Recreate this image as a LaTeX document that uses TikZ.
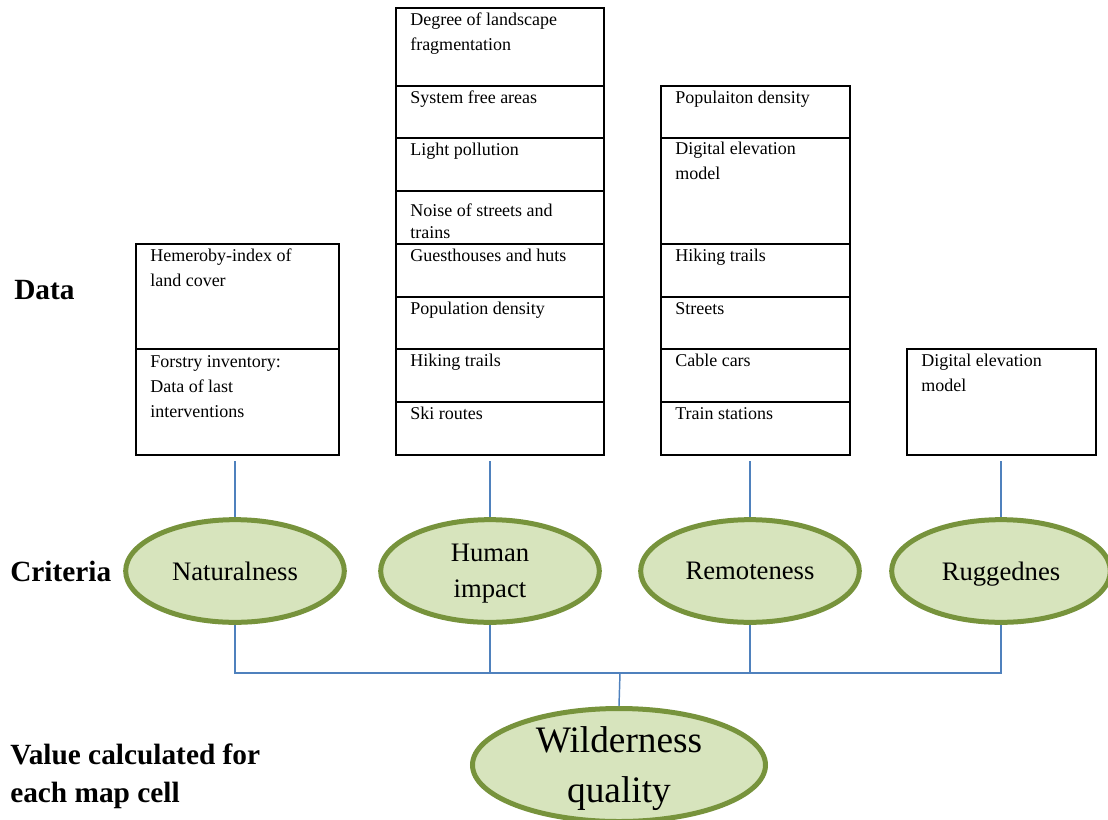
\documentclass[tikz,border=0pt]{standalone}
\usepackage{fontspec}
\setmainfont{Liberation Serif}
\usetikzlibrary{shapes.geometric,fit,calc}
\definecolor{conncol}{HTML}{4F81BD}
\definecolor{ellfill}{HTML}{D7E4BD}
\definecolor{elldraw}{HTML}{77933C}
\begin{document}
\begin{tikzpicture}[x=0.75pt,y=-0.75pt,
 cell/.style={draw=black,line width=1.5pt,inner sep=0pt},
 celltext/.style={anchor=base west,inner sep=0pt,align=left,font=\fontsize{13.5}{18.75}\selectfont},
 crit/.style={ellipse,draw=elldraw,fill=ellfill,line width=3.75pt,inner sep=0pt,minimum width=164pt,minimum height=77pt,align=center,font=\fontsize{20}{27}\selectfont},
 conn/.style={draw=conncol,line width=1.1pt},
 side/.style={anchor=base west,inner sep=0pt,align=left,font=\fontsize{22}{28.5}\selectfont\bfseries}]
\useasboundingbox (0,0) rectangle (1108,819);
% column 1
\node[cell,fit={(136,244)(339,349)}] (a1) {};
\node[cell,fit={(136,349)(339,455)}] (a2) {};
\node[celltext] (ta1) at (150,286) {Hemeroby-index of\\land cover};
\node[celltext] (ta2) at (150,417) {Forstry inventory:\\Data of last\\interventions};
% column 2
\node[cell,fit={(396,8)(604,86)}] (b1) {};
\node[cell,fit={(396,86)(604,138)}] (b2) {};
\node[cell,fit={(396,138)(604,191)}] (b3) {};
\node[cell,fit={(396,191)(604,244)}] (b4) {};
\node[cell,fit={(396,244)(604,297)}] (b5) {};
\node[cell,fit={(396,297)(604,349)}] (b6) {};
\node[cell,fit={(396,349)(604,402)}] (b7) {};
\node[cell,fit={(396,402)(604,455)}] (b8) {};
\node[celltext] (tb1) at (410,50) {Degree of landscape\\fragmentation};
\node[celltext] (tb2) at (410,103) {System free areas};
\node[celltext] (tb3) at (410,155.5) {Light pollution};
\node[celltext,font=\fontsize{13.5}{16.5}\selectfont] (tb4) at (410,238.5) {Noise of streets and\\trains};
\node[celltext] (tb5) at (410,261) {Guesthouses and huts};
\node[celltext] (tb6) at (410,314) {Population density};
\node[celltext] (tb7) at (410,366.5) {Hiking trails};
\node[celltext] (tb8) at (410,419) {Ski routes};
% column 3
\node[cell,fit={(661,86)(850,138)}] (c1) {};
\node[cell,fit={(661,138)(850,244)}] (c2) {};
\node[cell,fit={(661,244)(850,297)}] (c3) {};
\node[cell,fit={(661,297)(850,349)}] (c4) {};
\node[cell,fit={(661,349)(850,402)}] (c5) {};
\node[cell,fit={(661,402)(850,455)}] (c6) {};
\node[celltext] (tc1) at (675,103) {Populaiton density};
\node[celltext] (tc2) at (675,179.5) {Digital elevation\\model};
\node[celltext] (tc3) at (675,261) {Hiking trails};
\node[celltext] (tc4) at (675,314) {Streets};
\node[celltext] (tc5) at (675,366.5) {Cable cars};
\node[celltext] (tc6) at (675,419) {Train stations};
% column 4
\node[cell,fit={(907,349)(1096,455)}] (d1) {};
\node[celltext] (td1) at (921,391.5) {Digital elevation\\model};
% criteria
\node[crit] (nat) at (235,571) {Naturalness};
\node[crit,text depth=0pt] (hum) at (490,571) {Human\\impact};
\node[crit] (rem) at (750,571) {Remoteness};
\node[crit,text depth=0pt] (rug) at (1001,571) {Ruggednes};
\node[crit,text depth=0pt,minimum width=219.75pt,minimum height=84.75pt,font=\fontsize{28}{37.5}\selectfont] (wq) at (619,765) {Wilderness\\quality};
% side labels
\node[side] (ldata) at (14,299.5) {Data};
\node[side] (lcrit) at (10,581.5) {Criteria};
\node[side] (lval) at (10,802) {Value calculated for\\each map cell};
% connectors
\coordinate (bus) at (620,673);
\draw[conn] ($(nat.north |- a2.south)+(0,5)$) -- (nat.north);
\draw[conn] ($(hum.north |- b8.south)+(0,5)$) -- (hum.north);
\draw[conn] ($(rem.north |- c6.south)+(0,5)$) -- (rem.north);
\draw[conn] ($(rug.north |- d1.south)+(0,5)$) -- (rug.north);
\draw[conn] (nat.south) -- (nat.south |- bus) -- (rug.south |- bus) -- (rug.south);
\draw[conn] (hum.south) -- (hum.south |- bus);
\draw[conn] (rem.south) -- (rem.south |- bus);
\draw[conn] (bus) -- (wq.north);
\end{tikzpicture}
\end{document}
